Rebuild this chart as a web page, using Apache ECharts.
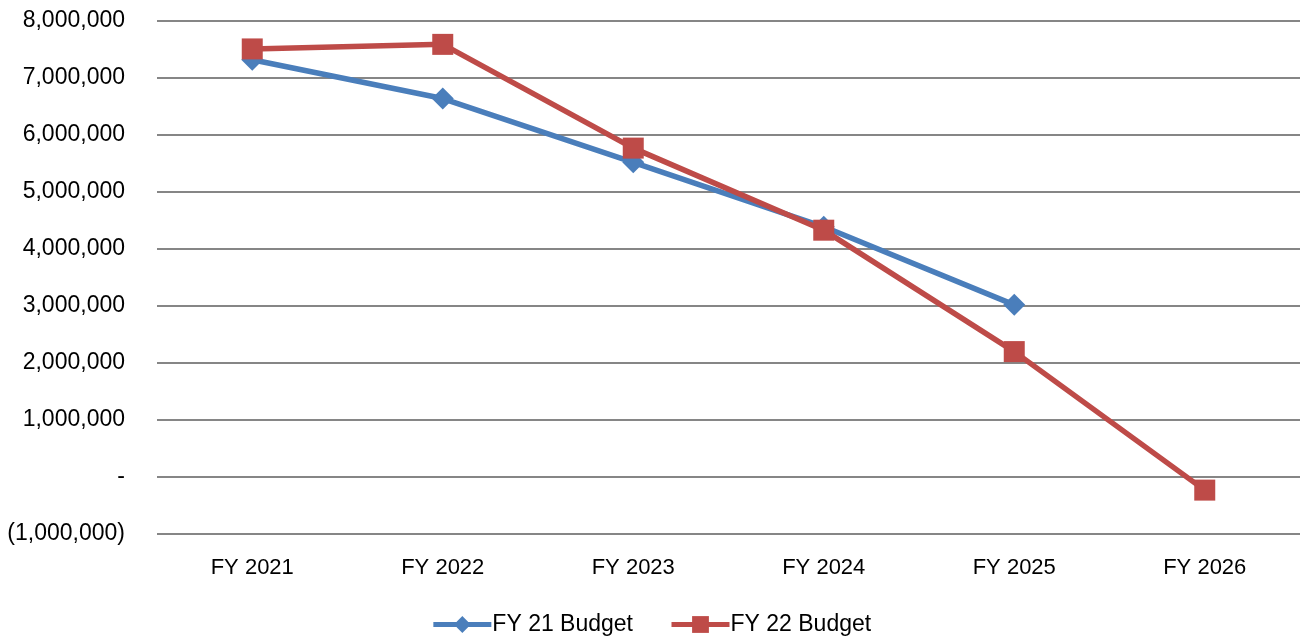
<!DOCTYPE html>
<html>
<head>
<meta charset="utf-8">
<script src="https://cdn.jsdelivr.net/npm/echarts@6/dist/echarts.min.js"></script>
<style>html,body{margin:0;padding:0;background:#fff}#c{width:1302px;height:640px}</style>
</head>
<body>
<div id="c"></div>
<script>
const categories = ['FY 2021','FY 2022','FY 2023','FY 2024','FY 2025','FY 2026'];
const fy21Budget = [7320000, 6640000, 5520000, 4390000, 3020000, null];
const fy22Budget = [7510000, 7590000, 5770000, 4330000, 2200000, -230000];
const seriesNames = ['FY 21 Budget','FY 22 Budget'];

const FONT = '"Liberation Sans", Arial, sans-serif';
function fmt(v){
  if (v === 0) return '-';
  const s = Math.abs(v).toLocaleString('en-US');
  return v < 0 ? '(' + s + ')' : s;
}
const chart = echarts.init(document.getElementById('c'));
chart.setOption({
  animation: false,
  grid: {left: 157, right: 2, top: 21, bottom: 106, containLabel: false},
  legend: {
    bottom: -1, left: 'center',
    itemWidth: 58, itemHeight: 21, itemGap: 36,
    lineStyle: {width: 5},
    textStyle: {fontFamily: FONT, fontSize: 23, color: '#000', padding: [0,0,0,-4]},
    data: seriesNames
  },
  xAxis: {
    type: 'category', data: categories, boundaryGap: true,
    axisLine: {show: false}, axisTick: {show: false},
    axisLabel: {fontFamily: FONT, fontSize: 22, color: '#000', margin: 23}
  },
  yAxis: {
    type: 'value', min: -1000000, max: 8000000, interval: 1000000,
    axisLine: {show: false}, axisTick: {show: false},
    splitLine: {lineStyle: {color: '#868686', width: 2}},
    axisLabel: {fontFamily: FONT, fontSize: 23, color: '#000', margin: 32, formatter: fmt}
  },
  series: [
    {name: seriesNames[0], type: 'line', data: fy21Budget, symbol: 'diamond', symbolSize: 22,
     lineStyle: {color: '#4A7EBB', width: 5.5}, itemStyle: {color: '#4A7EBB'}, z: 2},
    {name: seriesNames[1], type: 'line', data: fy22Budget, symbol: 'rect', symbolSize: 21,
     lineStyle: {color: '#BE4B48', width: 5.5}, itemStyle: {color: '#BE4B48'}, z: 3}
  ]
});
</script>
</body>
</html>
